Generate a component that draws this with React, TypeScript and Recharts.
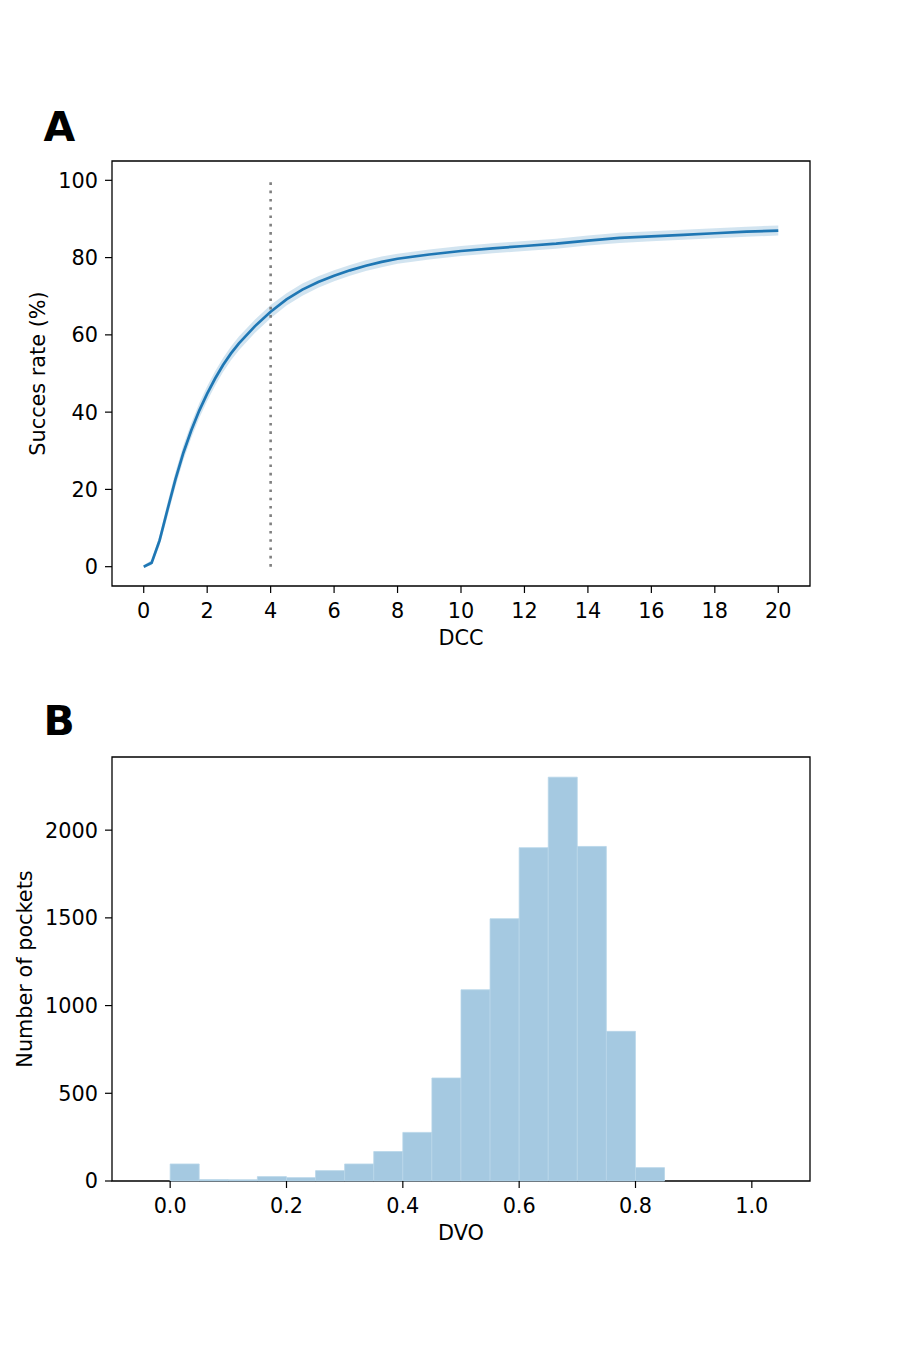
import {
  ComposedChart,
  BarChart,
  Bar,
  Line,
  Area,
  XAxis,
  YAxis,
  ReferenceLine,
  ReferenceArea,
} from 'recharts';

// Panel A: success rate vs DCC threshold
const dccValues = [
  0, 0.25, 0.5, 0.75, 1, 1.25, 1.5, 1.75, 2, 2.25, 2.5, 2.75, 3, 3.5, 4, 4.5, 5, 5.5, 6, 6.5, 7,
  7.5, 8, 9, 10, 11, 12, 13, 14, 15, 16, 17, 18, 19, 20,
];
const successRate = [
  0, 1.0, 6.8, 14.8, 22.6, 29.5, 35.3, 40.4, 44.8, 48.7, 52.2, 55.2, 57.8, 62.2, 66.0, 69.2, 71.7,
  73.7, 75.3, 76.7, 77.9, 78.9, 79.7, 80.8, 81.7, 82.4, 83.0, 83.6, 84.4, 85.1, 85.5, 85.9, 86.3,
  86.7, 87.0,
];
const bandLow = [
  0, 0.4, 5.5, 13.0, 20.7, 27.6, 33.4, 38.5, 42.9, 46.8, 50.4, 53.4, 56.0, 60.5, 64.3, 67.6, 70.1,
  72.2, 73.9, 75.3, 76.5, 77.5, 78.4, 79.5, 80.4, 81.1, 81.7, 82.3, 83.1, 83.8, 84.2, 84.6, 85.0,
  85.4, 85.7,
];
const bandHigh = [
  0.4, 1.7, 8.1, 16.6, 24.5, 31.4, 37.2, 42.3, 46.7, 50.6, 54.0, 57.0, 59.6, 63.9, 67.7, 70.8, 73.3,
  75.2, 76.7, 78.1, 79.3, 80.3, 81.0, 82.1, 83.0, 83.7, 84.3, 84.9, 85.7, 86.4, 86.8, 87.2, 87.6,
  88.0, 88.3,
];
const dccTicks = [0, 2, 4, 6, 8, 10, 12, 14, 16, 18, 20];
const rateTicks = [0, 20, 40, 60, 80, 100];
const dccCutoff = 4;

// Panel B: DVO histogram (bins of 0.05)
const dvoBinCenters = [
  0.025, 0.075, 0.125, 0.175, 0.225, 0.275, 0.325, 0.375, 0.425, 0.475, 0.525, 0.575, 0.625, 0.675,
  0.725, 0.775, 0.825,
];
const pocketCounts = [97, 8, 7, 25, 19, 59, 97, 168, 277, 587, 1090, 1495, 1900, 2302, 1907, 853, 76];
const dvoTicks = [0, 0.2, 0.4, 0.6, 0.8, 1.0];
const countTicks = [0, 500, 1000, 1500, 2000];

const FONT = 'DejaVu Sans';
const FS = 20.8;
const BLUE = '#1f77b4';
const tickStyle = { fill: '#000', fontSize: FS, fontFamily: FONT };
const tickLine = { stroke: '#000', strokeWidth: 1.2 };

const curveData = dccValues.map((x, i) => ({
  dcc: x,
  rate: successRate[i],
  band: [bandLow[i], bandHigh[i]],
}));

const histData = dvoBinCenters.map((x, i) => ({ dvo: x, count: pocketCounts[i] }));

function PanelLetter({ text, top }: { text: string; top: number }) {
  return (
    <div
      style={{
        position: 'absolute',
        left: 43.5,
        top,
        fontFamily: FONT,
        fontWeight: 700,
        fontSize: 41,
        lineHeight: '41px',
        color: '#000',
      }}
    >
      {text}
    </div>
  );
}

export default function App() {
  return (
    <div
      style={{
        position: 'absolute',
        left: 0,
        top: 0,
        width: 900,
        height: 1350,
        background: '#fff',
        fontFamily: FONT,
      }}
    >
      <PanelLetter text="A" top={107} />
      <PanelLetter text="B" top={700.5} />

      <div style={{ position: 'absolute', left: 0, top: 0 }}>
        <ComposedChart
          width={900}
          height={675}
          data={curveData}
          margin={{ top: 161, right: 90, bottom: 27, left: 12 }}
        >
          <XAxis
            dataKey="dcc"
            type="number"
            domain={[-1, 21]}
            ticks={dccTicks}
            axisLine={false}
            tickLine={tickLine}
            tickSize={7}
            tickMargin={10}
            height={62}
            tick={tickStyle}
            label={{ value: 'DCC', position: 'insideBottom', offset: 2.6, fill: '#000', fontSize: FS, fontFamily: FONT }}
          />
          <YAxis
            type="number"
            domain={[-5, 105]}
            ticks={rateTicks}
            axisLine={false}
            tickLine={tickLine}
            tickSize={7}
            tickMargin={7}
            width={100}
            tick={tickStyle}
            label={{
              value: 'Succes rate (%)',
              angle: -90,
              position: 'insideLeft',
              offset: 26,
              fill: '#000',
              fontSize: FS,
              fontFamily: FONT,
              style: { textAnchor: 'middle' },
            }}
          />
          <Area
            type="linear"
            dataKey="band"
            stroke="none"
            fill={BLUE}
            fillOpacity={0.2}
            isAnimationActive={false}
          />
          <Line
            type="linear"
            dataKey="rate"
            stroke={BLUE}
            strokeWidth={2.7}
            dot={false}
            activeDot={false}
            isAnimationActive={false}
          />
          <ReferenceLine
            segment={[
              { x: dccCutoff, y: 0 },
              { x: dccCutoff, y: 100 },
            ]}
            stroke="#808080"
            strokeWidth={2.6}
            strokeDasharray="2.6 5.7"
          />
          <ReferenceArea x1={-1} x2={21} y1={-5} y2={105} fill="none" stroke="#000" strokeWidth={1.3} />
        </ComposedChart>
      </div>

      <div style={{ position: 'absolute', left: 0, top: 675 }}>
        <BarChart
          width={900}
          height={675}
          data={histData}
          margin={{ top: 82, right: 90, bottom: 107, left: 12 }}
          barCategoryGap={0}
        >
          <XAxis
            dataKey="dvo"
            type="number"
            domain={[-0.1, 1.1]}
            ticks={dvoTicks}
            tickFormatter={(v: number) => v.toFixed(1)}
            axisLine={false}
            tickLine={tickLine}
            tickSize={7}
            tickMargin={10}
            height={62}
            tick={tickStyle}
            label={{ value: 'DVO', position: 'insideBottom', offset: 2.6, fill: '#000', fontSize: FS, fontFamily: FONT }}
          />
          <YAxis
            type="number"
            domain={[0, 2417]}
            ticks={countTicks}
            axisLine={false}
            tickLine={tickLine}
            tickSize={7}
            tickMargin={7}
            width={100}
            tick={tickStyle}
            label={{
              value: 'Number of pockets',
              angle: -90,
              position: 'insideLeft',
              offset: 13,
              fill: '#000',
              fontSize: FS,
              fontFamily: FONT,
              style: { textAnchor: 'middle' },
            }}
          />
          <Bar
            dataKey="count"
            fill="#a5c9e1"
            stroke="#b8d5e9"
            strokeWidth={0.8}
            isAnimationActive={false}
          />
          <ReferenceArea x1={-0.1} x2={1.1} y1={0} y2={2417} fill="none" stroke="#000" strokeWidth={1.3} />
        </BarChart>
      </div>
    </div>
  );
}
